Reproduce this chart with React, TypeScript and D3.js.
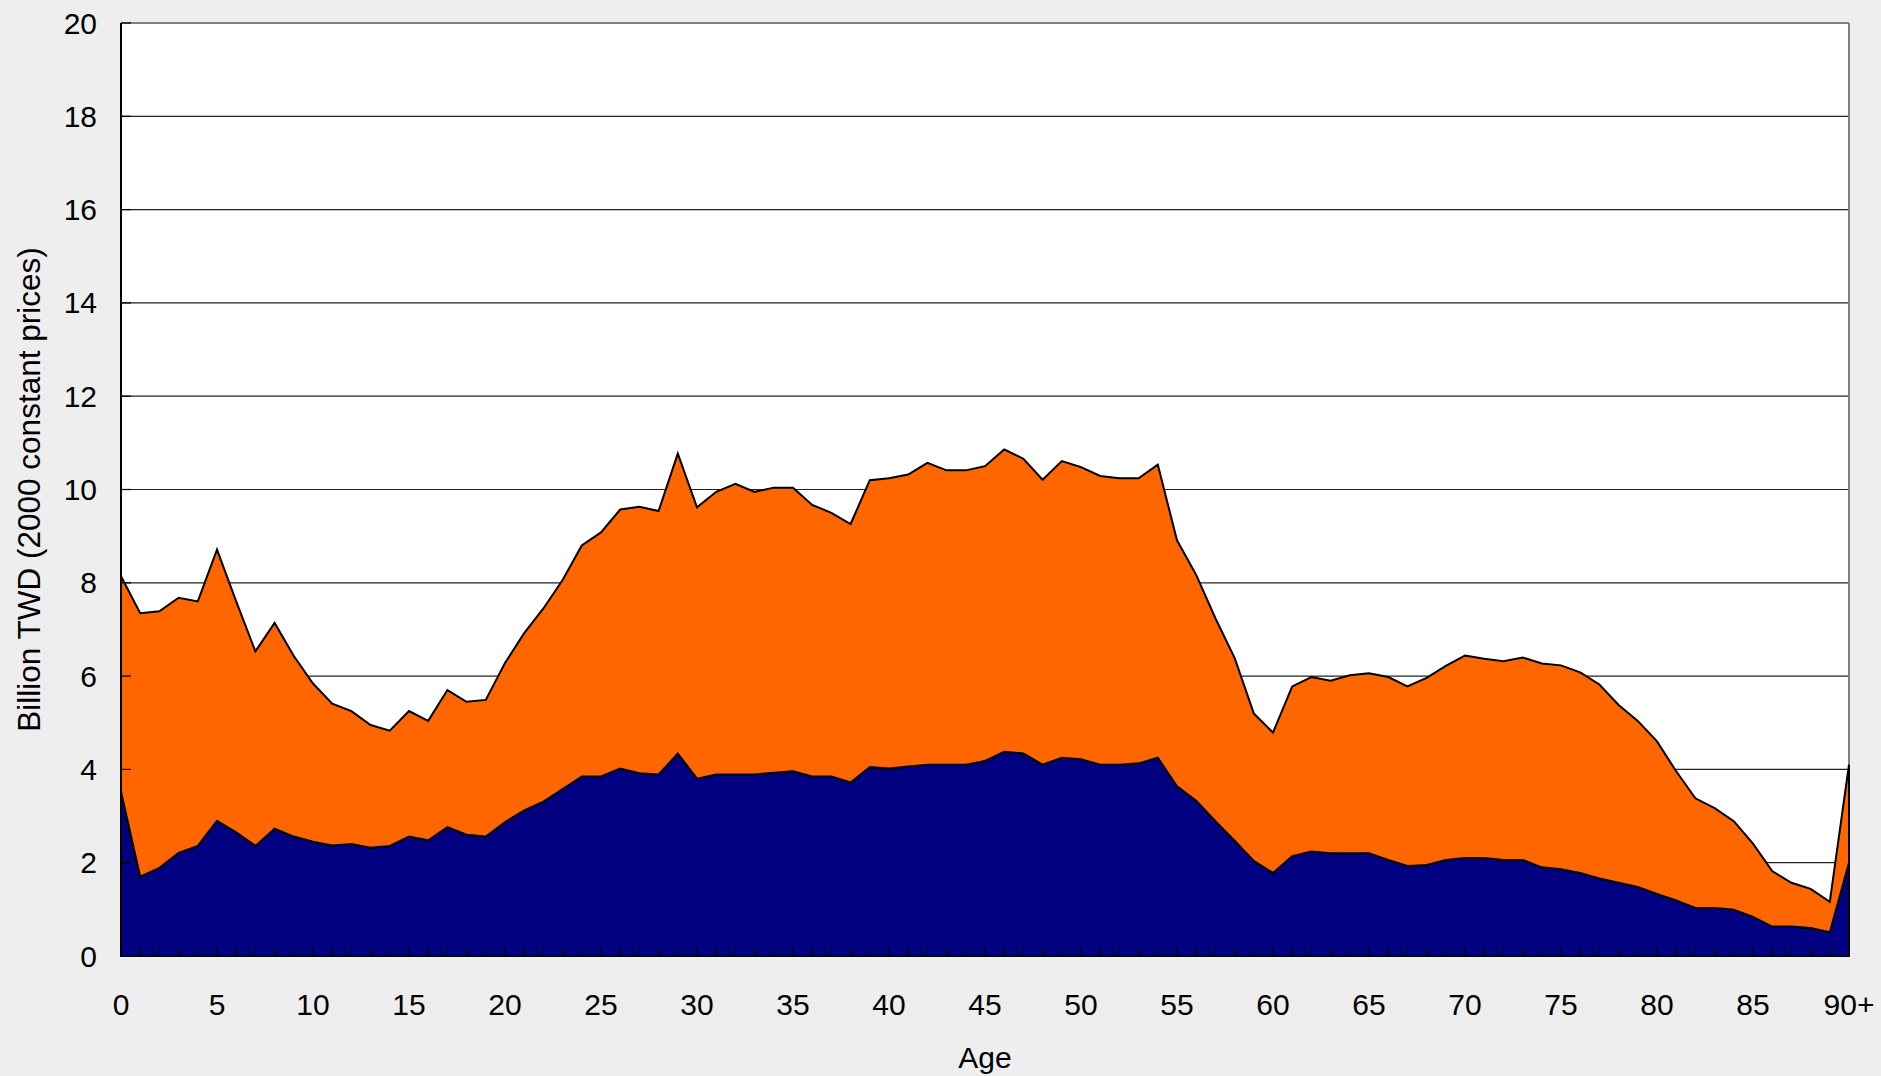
import React from "react";
import * as d3 from "d3";

const ages: number[] = d3.range(0, 91);
const xTickLabels: string[] = ["0","5","10","15","20","25","30","35","40","45","50","55","60","65","70","75","80","85","90+"];
const yTicks: number[] = [0, 2, 4, 6, 8, 10, 12, 14, 16, 18, 20];

// bottom series (navy)
const navy: number[] = [
  3.52, 1.70, 1.89, 2.21, 2.36, 2.90, 2.65, 2.36, 2.73, 2.56,
  2.45, 2.37, 2.40, 2.32, 2.36, 2.56, 2.48, 2.76, 2.60, 2.56,
  2.87, 3.12, 3.31, 3.58, 3.85, 3.85, 4.02, 3.92, 3.89, 4.34,
  3.80, 3.89, 3.89, 3.89, 3.93, 3.96, 3.85, 3.85, 3.72, 4.05,
  4.02, 4.06, 4.10, 4.10, 4.10, 4.18, 4.38, 4.34, 4.10, 4.25,
  4.22, 4.10, 4.10, 4.13, 4.25, 3.64, 3.33, 2.89, 2.47, 2.04,
  1.78, 2.14, 2.24, 2.20, 2.20, 2.20, 2.06, 1.93, 1.95, 2.06,
  2.10, 2.10, 2.06, 2.06, 1.90, 1.86, 1.78, 1.66, 1.57, 1.48,
  1.33, 1.19, 1.03, 1.03, 0.99, 0.84, 0.63, 0.63, 0.60, 0.51,
  2.00,
];

// top series (orange), stacked on navy
const orange: number[] = [
  4.62, 5.65, 5.50, 5.47, 5.24, 5.81, 4.95, 4.17, 4.41, 3.87,
  3.39, 3.04, 2.85, 2.63, 2.47, 2.69, 2.56, 2.94, 2.85, 2.93,
  3.41, 3.80, 4.14, 4.48, 4.95, 5.23, 5.55, 5.71, 5.65, 6.43,
  5.82, 6.06, 6.23, 6.06, 6.11, 6.08, 5.82, 5.65, 5.54, 6.15,
  6.22, 6.26, 6.47, 6.31, 6.31, 6.32, 6.48, 6.32, 6.11, 6.36,
  6.26, 6.19, 6.14, 6.11, 6.28, 5.27, 4.84, 4.35, 3.92, 3.16,
  3.01, 3.64, 3.74, 3.70, 3.82, 3.86, 3.92, 3.85, 4.01, 4.16,
  4.34, 4.27, 4.26, 4.34, 4.37, 4.37, 4.30, 4.16, 3.81, 3.56,
  3.27, 2.77, 2.35, 2.14, 1.90, 1.57, 1.19, 0.94, 0.84, 0.65,
  2.10,
];

const W = 1881;
const H = 1076;
const M = { left: 121, right: 1849, top: 23, bottom: 956 };
const FONT = "'Liberation Sans', Arial, sans-serif";

export default function App() {
  const x = d3.scaleLinear().domain([0, 90]).range([M.left, M.right]);
  const y = d3.scaleLinear().domain([0, 20]).range([M.bottom, M.top]);

  const rows = ages.map((a, i) => ({ age: a, navy: navy[i], orange: orange[i] }));
  const stacked = d3.stack<any>().keys(["navy", "orange"])(rows);
  const area = d3
    .area<any>()
    .x((d) => x(d.data.age))
    .y0((d) => y(d[0]))
    .y1((d) => y(d[1]))
    .curve(d3.curveLinear);
  const colors = ["#000080", "#FF6600"];

  return (
    <svg
      width={W}
      height={H}
      style={{ position: "absolute", left: 0, top: 0, display: "block" }}
    >
      <defs>
        <radialGradient id="swoosh" cx="0.5" cy="0" r="0.5">
          <stop offset="0" stopColor="#c9cbe6" stopOpacity="0.9" />
          <stop offset="1" stopColor="#c9cbe6" stopOpacity="0" />
        </radialGradient>
      </defs>
      <rect x={0} y={0} width={W} height={H} fill="#eeeeee" />
      <ellipse cx={700} cy={0} rx={500} ry={10} fill="url(#swoosh)" />
      <ellipse cx={1400} cy={0} rx={300} ry={8} fill="url(#swoosh)" />
      {/* plot area */}
      <rect
        x={M.left}
        y={M.top}
        width={M.right - M.left}
        height={M.bottom - M.top}
        fill="#ffffff"
      />
      {/* gridlines */}
      {yTicks.slice(1).map((t) => (
        <line
          key={"g" + t}
          x1={M.left}
          x2={M.right}
          y1={y(t)}
          y2={y(t)}
          stroke={t === 20 ? "#808080" : "#222"}
          strokeWidth={t === 20 ? 2 : 1.2}
        />
      ))}
      {/* right border */}
      <line x1={M.right} x2={M.right} y1={M.top} y2={M.bottom} stroke="#808080" strokeWidth={2} />
      {/* areas */}
      {stacked.map((s, i) => (
        <path
          key={s.key}
          d={area(s) || ""}
          fill={colors[i]}
          stroke="#000"
          strokeWidth={2}
          strokeLinejoin="miter"
        />
      ))}
      {/* x ticks (inward) */}
      {ages.map((a) => (
        <line
          key={"xt" + a}
          x1={x(a)}
          x2={x(a)}
          y1={M.bottom}
          y2={M.bottom - 8}
          stroke="#000"
          strokeWidth={1.2}
        />
      ))}
      {/* y ticks (inward) */}
      {yTicks.map((t) => (
        <line
          key={"yt" + t}
          x1={M.left}
          x2={M.left + 10}
          y1={y(t)}
          y2={y(t)}
          stroke="#000"
          strokeWidth={1.2}
        />
      ))}
      {/* axes */}
      <line x1={M.left} x2={M.right} y1={M.bottom} y2={M.bottom} stroke="#000" strokeWidth={2} />
      <line x1={M.left} x2={M.left} y1={M.top} y2={M.bottom} stroke="#000" strokeWidth={2} />
      {/* y labels */}
      {yTicks.map((t) => (
        <text
          key={"yl" + t}
          x={M.left - 24}
          y={y(t)}
          textAnchor="end"
          dominantBaseline="central"
          fontFamily={FONT}
          fontSize={30}
          fill="#000"
        >
          {t}
        </text>
      ))}
      {/* x labels */}
      {xTickLabels.map((l, i) => (
        <text
          key={"xl" + l}
          x={x(i * 5)}
          y={1004}
          textAnchor="middle"
          dominantBaseline="central"
          fontFamily={FONT}
          fontSize={30}
          fill="#000"
        >
          {l}
        </text>
      ))}
      <text
        x={(M.left + M.right) / 2}
        y={1057}
        textAnchor="middle"
        dominantBaseline="central"
        fontFamily={FONT}
        fontSize={30}
        fill="#000"
      >
        Age
      </text>
      <text
        transform={`translate(29, ${(M.top + M.bottom) / 2}) rotate(-90)`}
        textAnchor="middle"
        dominantBaseline="central"
        fontFamily={FONT}
        fontSize={31.5}
        fill="#000"
      >
        Billion TWD (2000 constant prices)
      </text>
    </svg>
  );
}
